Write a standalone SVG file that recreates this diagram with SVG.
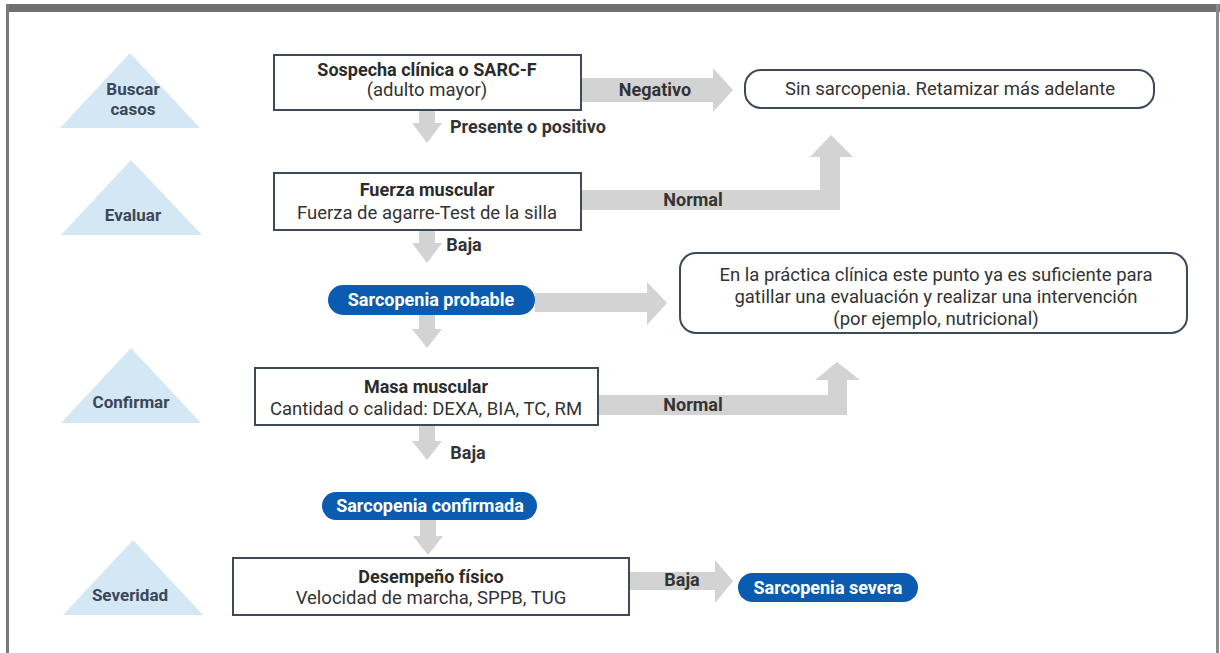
<svg xmlns="http://www.w3.org/2000/svg" width="1220" height="653" viewBox="0 0 1220 653">
<style>
text{font-family:Roboto,"Liberation Sans",sans-serif;text-anchor:middle}
.tri{fill:#d4e7f4}
.tl{font-size:17px;font-weight:bold;fill:#3b4757}
.box{fill:#fff;stroke:#3e4a5a;stroke-width:2}
.rbox{fill:#fff;stroke:#3e4a5a;stroke-width:2}
.t{font-size:18px;font-weight:bold;fill:#2b2b2b}
.s{font-size:18.5px;fill:#333}
.pill{fill:#0b5cb0}
.pt{font-size:18px;font-weight:bold;fill:#fff}
.arr{fill:#d3d3d3}
.lab{font-size:18px;font-weight:bold;fill:#333}
</style>
<rect x="0" y="0" width="1220" height="653" fill="#fff"/>
<g id="frame">
<rect x="6" y="4" width="1214" height="8" fill="#6f6f6f"/>
<rect x="6" y="4" width="3" height="649" fill="#7a7a7a"/>
<rect x="1216" y="4" width="3" height="649" fill="#8a8a8a"/>
</g>
<g id="stage-buscar"><polygon class="tri" points="130,53 200,128 60,128"/><text class="tl" x="133" y="95">Buscar</text><text class="tl" x="133" y="115">casos</text></g>
<g id="stage-evaluar"><polygon class="tri" points="131,160 202,235 61,235"/><text class="tl" x="133" y="221">Evaluar</text></g>
<g id="stage-confirmar"><polygon class="tri" points="131,348 201,423 61,423"/><text class="tl" x="131" y="408">Confirmar</text></g>
<g id="stage-severidad"><polygon class="tri" points="133,540 203,615 63,615"/><text class="tl" x="130" y="601">Severidad</text></g>
<g id="connectors">
<path class="arr" d="M419 110 H435 V123 H442 L427 143 L412 123 H419 Z"/>
<path class="arr" d="M419 230 H435 V243 H442 L427 263 L412 243 H419 Z"/>
<path class="arr" d="M419 315 H435 V329 H442 L427 348 L412 329 H419 Z"/>
<path class="arr" d="M419 425 H435 V441 H442 L427 460 L412 441 H419 Z"/>
<path class="arr" d="M420 520 H436 V536 H443 L428 555 L413 536 H420 Z"/>
<path class="arr" d="M581 78 H713 V68 L733 90 L713 112 V102 H581 Z"/>
<path class="arr" d="M581 190 H820 V157 H810 L831 135 L853 157 H840 V210 H581 Z"/>
<path class="arr" d="M535 293 H647 V282 L667 303 L647 325 V312 H535 Z"/>
<path class="arr" d="M598 395 H828 V380 H815 L837 362 L860 380 H847 V415 H598 Z"/>
<path class="arr" d="M629 572 H715 V560 L733 581 L715 603 V590 H629 Z"/>
<text class="lab" x="655" y="96">Negativo</text>
<text class="lab" x="450" y="133" style="text-anchor:start">Presente o positivo</text>
<text class="lab" x="693" y="206">Normal</text>
<text class="lab" x="464" y="251">Baja</text>
<text class="lab" x="693" y="411">Normal</text>
<text class="lab" x="468" y="459">Baja</text>
<text class="lab" x="682" y="586">Baja</text>
</g>
<g id="sospecha"><rect class="box" x="274" y="55" width="307" height="55"/><text class="t" x="427" y="76">Sospecha clínica o SARC-F</text><text class="s" x="427" y="96">(adulto mayor)</text></g>
<g id="sin-sarcopenia"><rect class="rbox" x="745" y="70" width="409" height="38" rx="16"/><text class="s" x="950" y="95">Sin sarcopenia. Retamizar más adelante</text></g>
<g id="fuerza"><rect class="box" x="274" y="173" width="307" height="57"/><text class="t" x="427" y="196">Fuerza muscular</text><text class="s" x="427" y="219">Fuerza de agarre-Test de la silla</text></g>
<g id="probable"><rect class="pill" x="328" y="285" width="207" height="30" rx="15"/><text class="pt" x="431" y="306">Sarcopenia probable</text></g>
<g id="practica"><rect class="rbox" x="680" y="253" width="507" height="80" rx="16"/><text class="s" x="936" y="281">En la práctica clínica este punto ya es suficiente para</text><text class="s" x="936" y="303">gatillar una evaluación y realizar una intervención</text><text class="s" x="936" y="325">(por ejemplo, nutricional)</text></g>
<g id="masa"><rect class="box" x="255" y="368" width="343" height="57"/><text class="t" x="426" y="393">Masa muscular</text><text class="s" x="426" y="415">Cantidad o calidad: DEXA, BIA, TC, RM</text></g>
<g id="confirmada"><rect class="pill" x="322" y="492" width="215" height="28" rx="14"/><text class="pt" x="430" y="512">Sarcopenia confirmada</text></g>
<g id="desempeno"><rect class="box" x="233" y="558" width="396" height="57"/><text class="t" x="431" y="583">Desempeño físico</text><text class="s" x="431" y="604">Velocidad de marcha, SPPB, TUG</text></g>
<g id="severa"><rect class="pill" x="738" y="573" width="180" height="29" rx="14.5"/><text class="pt" x="828" y="594">Sarcopenia severa</text></g>
</svg>
